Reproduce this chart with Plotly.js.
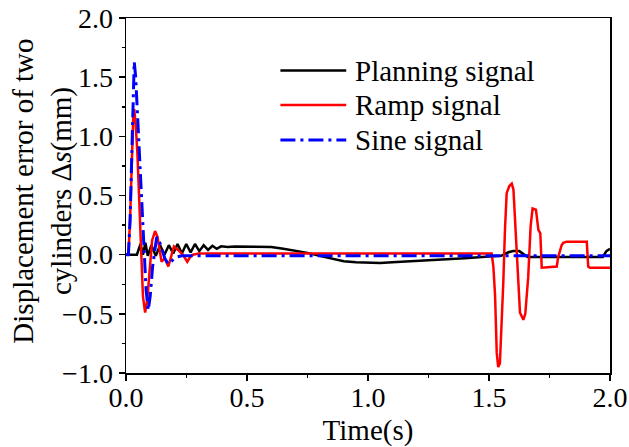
<!DOCTYPE html>
<html>
<head>
<meta charset="utf-8">
<script src="https://cdn.plot.ly/plotly-3.0.1.min.js"></script>
<style>html,body{margin:0;padding:0;background:#fff;}#chart{width:629px;height:447px;}</style>
</head>
<body>
<div id="chart"></div>
<script>
// Planning signal
const planT = [0,0.03,0.045,0.06,0.07,0.08,0.09,0.105,0.123,0.141,0.159,0.177,0.195,0.213,0.231,0.249,0.267,0.285,0.303,0.321,0.339,0.357,0.375,0.393,0.42,0.45,0.5,0.55,0.6,0.65,0.7,0.75,0.8,0.85,0.9,0.95,1.0,1.05,1.1,1.2,1.3,1.4,1.5,1.55,1.58,1.6,1.625,1.645,1.66,1.8,1.97,1.985,2.0];
const planV = [0,0,0,0.09,0,0.1,-0.01,0.08,-0.01,0.08,0,0.08,0.01,0.09,0.01,0.09,0.02,0.09,0.03,0.08,0.04,0.075,0.05,0.07,0.065,0.07,0.07,0.07,0.065,0.05,0.035,0.015,-0.01,-0.035,-0.055,-0.065,-0.07,-0.07,-0.065,-0.055,-0.045,-0.03,-0.015,-0.01,0.02,0.03,0.03,0,-0.02,-0.02,-0.02,0.03,0.05];
// Ramp signal
const rampT = [0,0.01,0.017,0.024,0.03,0.034,0.04,0.047,0.054,0.061,0.07,0.079,0.088,0.097,0.108,0.12,0.13,0.147,0.16,0.175,0.187,0.198,0.215,0.235,0.253,0.265,0.277,0.3,0.5,1.0,1.5,1.511,1.518,1.525,1.532,1.538,1.545,1.552,1.559,1.566,1.573,1.584,1.594,1.601,1.607,1.617,1.628,1.642,1.65,1.662,1.672,1.68,1.694,1.704,1.712,1.718,1.78,1.786,1.8,1.807,1.821,1.904,1.91,1.917,2.0];
const rampV = [0,0,0.3,0.86,1.18,1.23,1.1,0.86,0.45,0,-0.35,-0.49,-0.38,-0.15,0.12,0.2,0.15,-0.06,-0.03,-0.1,0,0.07,0.04,0,-0.06,-0.02,0,0.01,0.01,0.01,0.01,0.01,-0.1,-0.34,-0.83,-0.95,-0.92,-0.61,-0.24,0.21,0.52,0.58,0.6,0.55,0.32,-0.13,-0.49,-0.55,-0.5,-0.19,0.24,0.39,0.38,0.21,0.18,-0.11,-0.1,-0.02,0.08,0.1,0.11,0.11,-0.1,-0.11,-0.11];
// Sine signal
const sineT = [0,0.01,0.017,0.024,0.03,0.034,0.04,0.047,0.055,0.064,0.07,0.076,0.083,0.092,0.1,0.11,0.12,0.127,0.14,0.16,0.175,0.19,0.21,0.23,0.3,0.6,1.0,1.5,2.0];
const sineV = [0,0,0.3,0.95,1.45,1.63,1.5,1.2,0.9,0.57,0.25,0,-0.3,-0.47,-0.35,-0.1,0.08,0.15,0.1,-0.03,-0.08,-0.05,-0.02,-0.01,-0.01,-0.01,-0.01,-0.01,-0.01];

const seriesNames = ['Planning signal','Ramp signal','Sine signal'];
const xTicks = [0,0.5,1.0,1.5,2.0];
const yTicks = [-1.0,-0.5,0.0,0.5,1.0,1.5,2.0];
const xTitle = 'Time(s)';
const yTitle = 'Displacement error of two<br>cylinders Δ<i>s</i>(mm)';

const FONT = 'Liberation Serif, Times New Roman, serif';
const colors = ['#000000','#ff0000','#0000ff'];
const dashes = ['solid','solid','15px,5px,3px,5px'];
const widths = [2.5,2.5,3];

const traces = [
  {x: planT, y: planV},
  {x: rampT, y: rampV},
  {x: sineT, y: sineV}
].map((d,i)=>({
  x: d.x, y: d.y, type:'scatter', mode:'lines', name: seriesNames[i],
  line:{color:colors[i], width:widths[i], dash:dashes[i]}, showlegend:false
}));

// custom legend
const legY = [0.852, 0.755, 0.656];
const shapes = seriesNames.map((n,i)=>({
  type:'line', xref:'paper', yref:'paper', x0:0.319, x1:0.455, y0:legY[i], y1:legY[i],
  line:{color:colors[i], width:widths[i], dash:dashes[i]}
}));
const annotations = seriesNames.map((n,i)=>({
  text:n, xref:'paper', yref:'paper', x:0.468, y:legY[i], xanchor:'left', yanchor:'middle',
  showarrow:false, font:{family:FONT, size:29, color:'#000'}
}));
// y-axis title (two lines, rotated)
annotations.push({
  text:yTitle, xref:'paper', yref:'paper', x:-0.172, y:0.513, xanchor:'center', yanchor:'middle',
  textangle:-90, showarrow:false, font:{family:FONT, size:29, color:'#000'}
});

const axisCommon = {
  showgrid:false, zeroline:false, showline:true, linecolor:'#000', linewidth:1.5, mirror:true,
  ticks:'outside', ticklen:6, tickwidth:1.5, tickcolor:'#000',
  tickfont:{family:FONT, size:28, color:'#000'}, tickformat:'.1f',
  minor:{ticks:'outside', ticklen:3, tickwidth:1.5, tickcolor:'#000', dtick:0.25}
};

const layout = {
  width:629, height:447,
  margin:{l:126, r:19, t:18, b:74},
  paper_bgcolor:'#fff', plot_bgcolor:'#fff',
  xaxis: Object.assign({}, axisCommon, {
    range:[0,2], tickmode:'array', tickvals:xTicks, ticklabelstandoff:-7,
    title:{text:xTitle, font:{family:FONT, size:29, color:'#000'}, standoff:12}
  }),
  yaxis: Object.assign({}, axisCommon, {
    range:[-1,2], tickmode:'array', tickvals:yTicks
  }),
  shapes: shapes,
  annotations: annotations,
  showlegend:false
};

Plotly.newPlot('chart', traces, layout, {displayModeBar:false, staticPlot:true});
</script>
</body>
</html>
